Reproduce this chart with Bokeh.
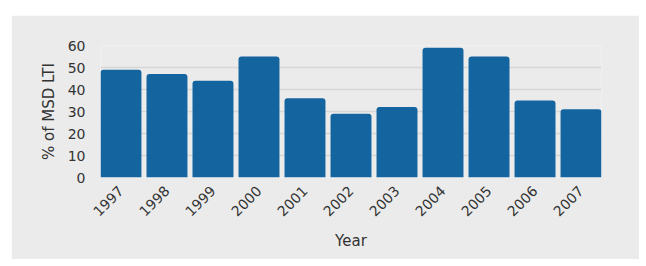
import math
from bokeh.plotting import figure
from bokeh.models import ColumnDataSource, Range1d
from bokeh.embed import file_html
from bokeh.resources import INLINE

years = ["1997", "1998", "1999", "2000", "2001", "2002", "2003", "2004", "2005", "2006", "2007"]
values = [49, 47, 44, 55, 36, 29, 32, 59, 55, 35, 31]

FONT = "DejaVu Sans"
TEXT = "#333333"
BG = "#ebebeb"
BAR_W = 0.89

src = ColumnDataSource(dict(year=years, value=values))

p = figure(
    x_range=years,
    y_range=Range1d(0, 60),
    width=628, height=244,
    output_backend="svg", toolbar_location=None,
    min_border_left=89, min_border_right=38, min_border_top=30, min_border_bottom=82,
)
p.margin = (15, 7, 7, 11)
p.background_fill_color = BG
p.border_fill_color = BG
p.outline_line_color = None
p.x_range.range_padding = -(1 - BAR_W) / len(years)

p.vbar(x="year", top="value", width=BAR_W, source=src,
       fill_color="#14659f", line_color=None, border_radius=[3, 3, 0, 0])

p.xgrid.grid_line_color = None
p.ygrid.grid_line_color = "#d6d6d6"
p.ygrid.grid_line_width = 1.5
p.yaxis.ticker = [0, 10, 20, 30, 40, 50, 60]

for ax in (p.xaxis, p.yaxis):
    ax.axis_line_color = None
    ax.major_tick_line_color = None
    ax.minor_tick_line_color = None
    ax.major_label_text_font = FONT
    ax.major_label_text_font_size = "14px"
    ax.major_label_text_color = TEXT
    ax.axis_label_text_font = FONT
    ax.axis_label_text_font_size = "15px"
    ax.axis_label_text_font_style = "normal"
    ax.axis_label_text_color = TEXT

p.yaxis.axis_label = "% of MSD LTI"
p.yaxis.major_label_standoff = 9
p.yaxis.axis_label_standoff = 7
p.xaxis.axis_label = "Year"
p.xaxis.major_label_orientation = math.pi / 4
p.xaxis.major_label_standoff = 5
p.xaxis.axis_label_standoff = 8

open("out.html", "w").write(file_html(p, INLINE))
